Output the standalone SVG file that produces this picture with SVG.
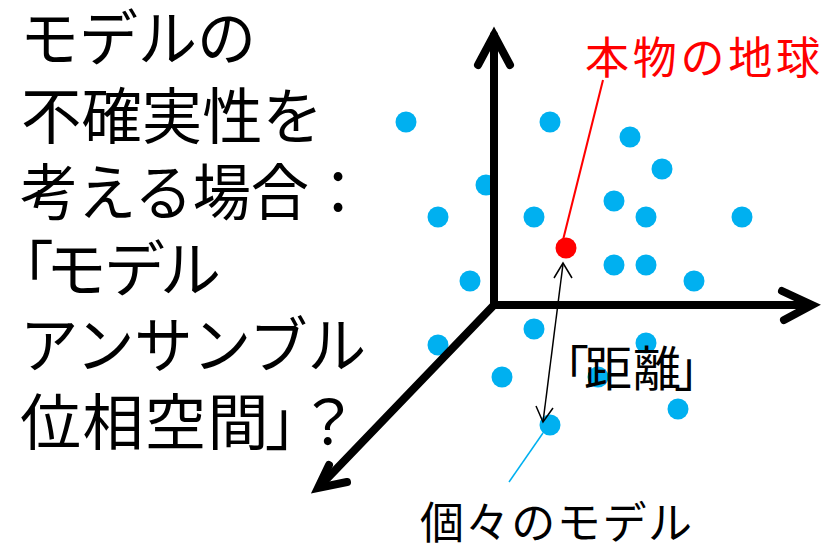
<svg xmlns="http://www.w3.org/2000/svg" width="829" height="547" viewBox="0 0 829 547">
<style>
.t{font-family:"Noto Sans CJK JP","Noto Sans",sans-serif;fill:#000}
.big{font-size:61px}
.p{font-feature-settings:"palt"}
.dot{fill:#00B0F0}
.axis{fill:none;stroke:#000;stroke-width:8;stroke-linecap:round;stroke-linejoin:miter}
</style>
<rect width="829" height="547" fill="#fff"/>
<g id="title">
<text class="t big" x="20" y="61" textLength="236" lengthAdjust="spacingAndGlyphs">モデルの</text>
<text class="t big" x="21" y="139" textLength="302" lengthAdjust="spacingAndGlyphs">不確実性を</text>
<text class="t big" x="20" y="215" textLength="347" lengthAdjust="spacingAndGlyphs">考える場合：</text>
<text class="t big p" y="292"><tspan x="22">「</tspan><tspan x="48">モデル</tspan></text>
<text class="t big" x="20" y="368" textLength="346" lengthAdjust="spacingAndGlyphs">アンサンブル</text>
<text class="t big p" y="445"><tspan x="20" style="letter-spacing:1.5px;font-feature-settings:normal">位相空間</tspan><tspan x="266">」</tspan><tspan x="298" style="font-feature-settings:normal">？</tspan></text>
</g>
<g id="models">
<circle class="dot" cx="406" cy="122" r="10.5"/>
<circle class="dot" cx="550" cy="122" r="10.5"/>
<circle class="dot" cx="630" cy="137" r="10.5"/>
<circle class="dot" cx="662" cy="169" r="10.5"/>
<circle class="dot" cx="486" cy="185" r="10.5"/>
<circle class="dot" cx="438" cy="217" r="10.5"/>
<circle class="dot" cx="534" cy="217" r="10.5"/>
<circle class="dot" cx="614" cy="201" r="10.5"/>
<circle class="dot" cx="646" cy="217" r="10.5"/>
<circle class="dot" cx="742" cy="217" r="10.5"/>
<circle class="dot" cx="614" cy="265" r="10.5"/>
<circle class="dot" cx="646" cy="265" r="10.5"/>
<circle class="dot" cx="470" cy="281" r="10.5"/>
<circle class="dot" cx="694" cy="281" r="10.5"/>
<circle class="dot" cx="534" cy="329" r="10.5"/>
<circle class="dot" cx="438" cy="345" r="10.5"/>
<circle class="dot" cx="646" cy="343" r="10.5"/>
<circle class="dot" cx="502" cy="377" r="10.5"/>
<circle class="dot" cx="598" cy="377" r="10.5"/>
<circle class="dot" cx="678" cy="409" r="10.5"/>
<circle class="dot" cx="550" cy="425" r="10.5"/>
</g>
<g id="earth">
<circle cx="566" cy="248" r="10.5" fill="#FF0000"/>
</g>
<g id="axes">
<polyline class="axis" points="494,35 494,305 810,305"/>
<polyline class="axis" points="478,65 494,35 510,65"/>
<polyline class="axis" points="782,291 812,305 784,320"/>
<line class="axis" x1="494" y1="305" x2="320" y2="486"/>
<polyline class="axis" points="329,465 318,488 347,482"/>
</g>
<g id="connectors" fill="none">
<line x1="603" y1="80" x2="563" y2="240" stroke="#FF0000" stroke-width="2"/>
<line x1="563" y1="264" x2="543" y2="422" stroke="#000" stroke-width="1.5"/>
<polyline points="554,278 563,263 572,278" stroke="#000" stroke-width="1.5"/>
<polyline points="536,406 543,422 553,408" stroke="#000" stroke-width="1.5"/>
<line x1="543" y1="433" x2="509" y2="482" stroke="#00B0F0" stroke-width="1.5"/>
</g>
<g id="labels">
<text class="t" x="585" y="74" font-size="44" style="fill:#FF0000" textLength="235">本物の地球</text>
<text class="t p" y="386" font-size="48"><tspan x="564">「</tspan><tspan x="584" style="letter-spacing:1px;font-feature-settings:normal">距離</tspan><tspan x="675">」</tspan></text>
<text class="t" x="420" y="539" font-size="44" textLength="272">個々のモデル</text>
</g>
</svg>
